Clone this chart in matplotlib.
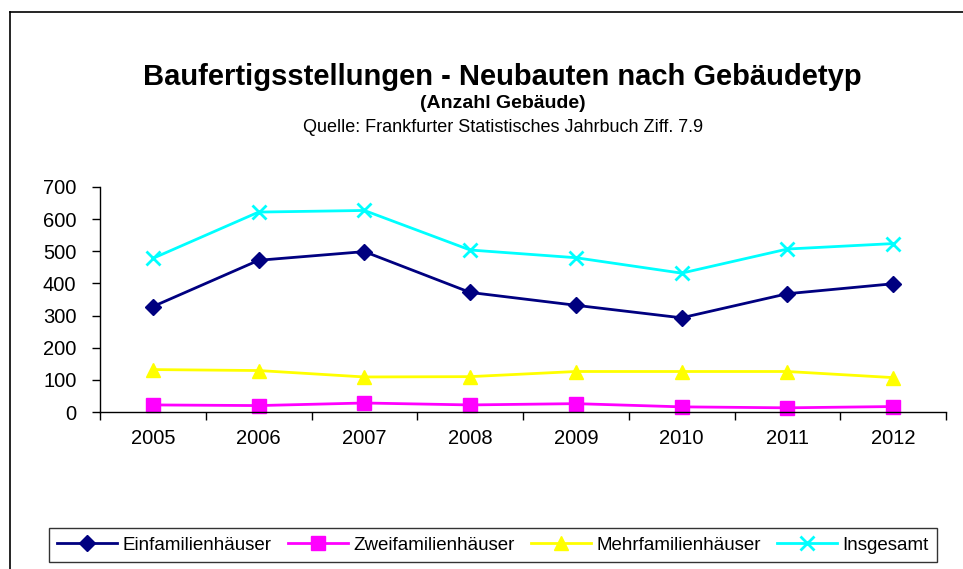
import numpy as np
import matplotlib
matplotlib.use("Agg")
import matplotlib.pyplot as plt
from matplotlib.lines import Line2D

plt.rcParams['font.family'] = ['Liberation Sans', 'DejaVu Sans']

years = ["2005", "2006", "2007", "2008", "2009", "2010", "2011", "2012"]
einfamilien = [328, 472, 499, 372, 332, 293, 368, 399]
zweifamilien = [22, 20, 28, 22, 26, 16, 13, 17]
mehrfamilien = [132, 129, 109, 110, 126, 126, 126, 107]
insgesamt = [478, 622, 627, 504, 480, 432, 507, 524]

fig = plt.figure(figsize=(9.63, 5.69), dpi=100)
ax = fig.add_axes([100 / 963, 1 - 412 / 569, 846 / 963, 225 / 569])

x = np.arange(len(years))
ax.plot(x, einfamilien, color="#000080", lw=2, marker="D", ms=8, label="Einfamilienhäuser")
ax.plot(x, zweifamilien, color="#FF00FF", lw=2, marker="s", ms=10, label="Zweifamilienhäuser")
ax.plot(x, mehrfamilien, color="#FFFF00", lw=2, marker="^", ms=10, label="Mehrfamilienhäuser")
ax.plot(x, insgesamt, color="#00FFFF", lw=2, marker="x", ms=9.5, mew=2, label="Insgesamt")

ax.set_xlim(-0.5, len(years) - 0.5)
ax.set_ylim(0, 700)
ax.set_yticks(range(0, 701, 100))
ax.set_xticks(np.arange(-0.5, len(years), 1.0))
ax.set_xticklabels([])
ax.set_xticks(x, minor=True)
ax.set_xticklabels(years, minor=True)
ax.tick_params(axis="x", which="minor", length=0, pad=12, labelsize=14.5)
ax.tick_params(axis="x", which="major", direction="out", length=6, width=1)
ax.tick_params(axis="y", direction="out", length=6, width=1, labelsize=14.5, pad=11)
for s in ["top", "right"]:
    ax.spines[s].set_visible(False)
for s in ["left", "bottom"]:
    ax.spines[s].set_linewidth(1)
for ln in ax.lines:
    ln.set_clip_on(False)

fig.text(0.522, 1 - 77 / 569, "Baufertigsstellungen - Neubauten nach Gebäudetyp",
         ha="center", va="center", fontsize=21, fontweight="bold")
fig.text(0.522, 1 - 103 / 569, "(Anzahl Gebäude)",
         ha="center", va="center", fontsize=14, fontweight="bold")
fig.text(0.522, 1 - 127 / 569, "Quelle: Frankfurter Statistisches Jahrbuch Ziff. 7.9",
         ha="center", va="center", fontsize=13)

# outer chart frame
fig.add_artist(Line2D([10 / 963, 1], [1 - 12 / 569, 1 - 12 / 569], color="black", lw=1.2))
fig.add_artist(Line2D([10 / 963, 10 / 963], [0, 1 - 12 / 569], color="black", lw=1.2))

leg = fig.legend(loc="center", bbox_to_anchor=(493 / 963, 1 - 545 / 569), ncol=4,
                 fontsize=13.5, frameon=True, fancybox=False, edgecolor="black",
                 handlelength=3.2, columnspacing=0.85, handletextpad=0.3, borderpad=0.45)
leg.get_frame().set_linewidth(1)

fig.savefig("out.png", dpi=100)
